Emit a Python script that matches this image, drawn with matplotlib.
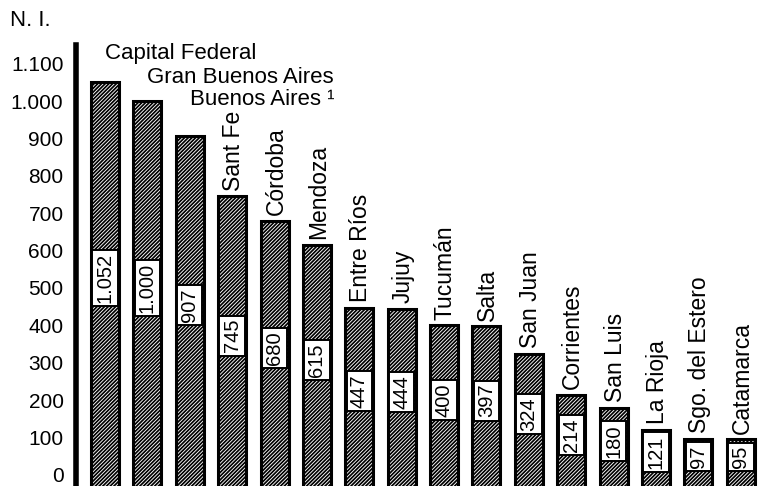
import matplotlib
matplotlib.use("Agg")
import matplotlib.pyplot as plt

plt.rcParams['font.family'] = ['Liberation Sans', 'DejaVu Sans']
plt.rcParams['hatch.linewidth'] = 1.25

provinces = ["Capital Federal", "Gran Buenos Aires", "Buenos Aires ¹", "Sant Fe",
             "Córdoba", "Mendoza", "Entre Ríos", "Jujuy", "Tucumán", "Salta",
             "San Juan", "Corrientes", "San Luis", "La Rioja", "Sgo. del Estero",
             "Catamarca"]
values = [1052, 1000, 907, 745, 680, 615, 447, 444, 400, 397, 324, 214, 180, 121, 97, 95]
value_labels = ["1.052", "1.000", "907", "745", "680", "615", "447", "444", "400",
                "397", "324", "214", "180", "121", "97", "95"]
yticks = [0, 100, 200, 300, 400, 500, 600, 700, 800, 900, 1000, 1100]
ytick_labels = ["0", "100", "200", "300", "400", "500", "600", "700", "800", "900",
                "1.000", "1.100"]

fig = plt.figure(figsize=(7.62, 4.86), dpi=100)
ax = fig.add_axes([76 / 762, 0.0, 1 - 76 / 762, 1 - 45 / 486])

x = list(range(len(values)))
# bars start below the visible bottom so they run off the page edge
bars = ax.bar(x, [v + 60 for v in values], bottom=-60, width=0.66, color="white",
              edgecolor="black", linewidth=2.2, hatch="/" * 9)

ax.set_xlim(-0.684, 15.5)
ax.set_ylim(-30, 1150)

for s in ["top", "right", "bottom"]:
    ax.spines[s].set_visible(False)
ax.spines["left"].set_linewidth(4)
ax.set_xticks([])
ax.set_yticks(yticks)
ax.set_yticklabels(ytick_labels, fontsize=15)
ax.tick_params(axis="y", length=0, pad=9)

# value labels inside bars
for xi, v, lab in zip(x, values, value_labels):
    ax.text(xi, v * 0.5, lab, rotation=90, ha="center", va="center", fontsize=14.5,
            bbox=dict(boxstyle="square,pad=0.16", fc="white", ec="black", lw=1.4),
            zorder=5)

# horizontal labels for the first three bars
horiz_offsets = [20, 17, 26]
for xi in range(3):
    ax.annotate(provinces[xi], xy=(xi, values[xi]), xytext=(0, horiz_offsets[xi]),
                textcoords="offset points", ha="left", va="center", fontsize=16)

# vertical labels for the rest
for xi in range(3, len(values)):
    ax.annotate(provinces[xi], xy=(xi, values[xi]), xytext=(1, 4),
                textcoords="offset points", ha="center", va="bottom",
                rotation=90, fontsize=16.5)

fig.text(10 / 762, 1 - 20 / 486, "N. I.", fontsize=16, ha="left", va="center")

fig.savefig("out.png", dpi=100, facecolor="white")
